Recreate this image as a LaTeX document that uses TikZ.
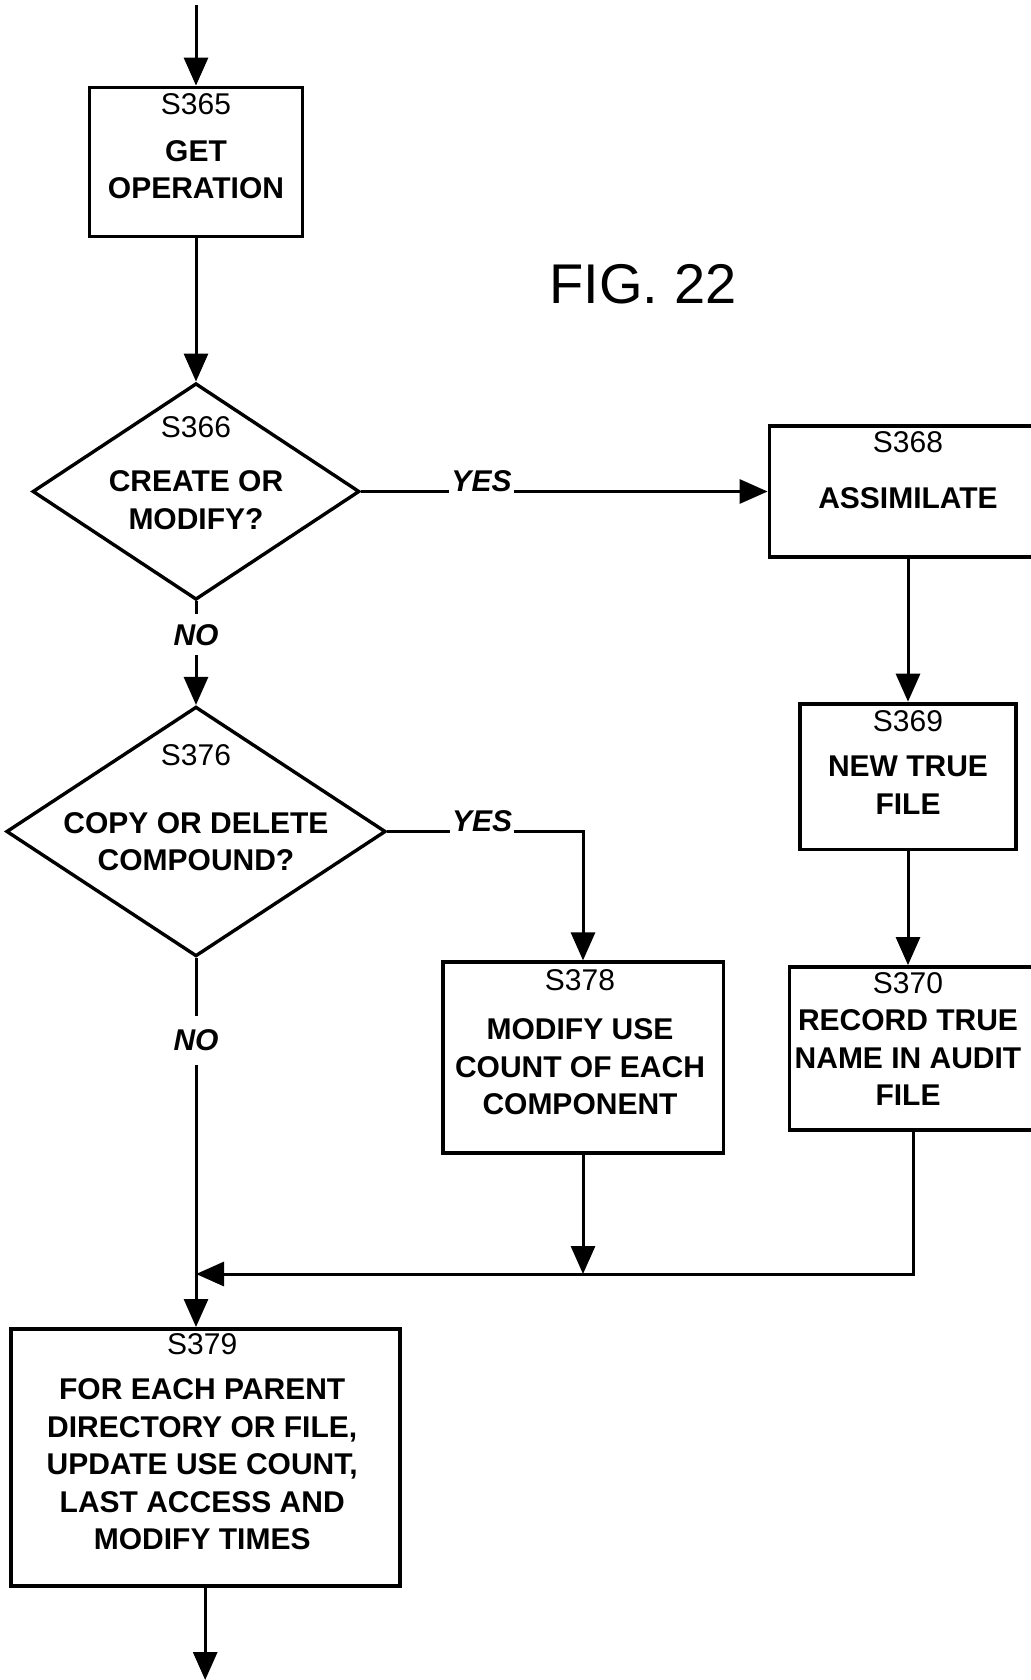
\documentclass[tikz,border=0pt]{standalone}
\usepackage{fontspec}
\setmainfont{Liberation Sans}
\usetikzlibrary{shapes.geometric, positioning, arrows.meta}

\begin{document}
\begin{tikzpicture}[x=0.5pt, y=-0.5pt,
  stepbox/.style = {draw, line width=1.9pt, inner sep=0pt},
  decision/.style = {draw, diamond, line width=1.7pt, inner sep=0pt},
  txt/.style = {align=center, inner sep=0pt, font=\fontsize{15}{18.75}\selectfont\bfseries},
  flow/.style = {line width=1.5pt, -{Triangle[length=14pt, width=12pt]}},
  answer/.style = {fill=white, inner xsep=1pt, inner ysep=5pt, font=\fontsize{15}{18}\selectfont\bfseries\itshape}]
\useasboundingbox (0,0) rectangle (1031,1680);

\node[stepbox, minimum width=106.5pt, minimum height=74.5pt] (s365) at (196,162) {};
\node[decision, minimum width=163.5pt, minimum height=108.25pt] (s366) [below of=s365, node distance=164.75pt] {};
\node[decision, minimum width=189.7pt, minimum height=124.85pt] (s376) [below of=s366, node distance=170pt] {};
\node[stepbox, minimum width=138.5pt, minimum height=65.4pt] (s368) [right of=s366, node distance=356pt] {};
\node[stepbox, minimum width=108.2pt, minimum height=72.9pt] (s369) [below of=s368, node distance=142.5pt] {};
\node[stepbox, minimum width=123.5pt, minimum height=81.5pt] (s370) [below of=s369, node distance=136pt, xshift=2.5pt] {};
\node[stepbox, minimum width=140.4pt, minimum height=95.4pt] (s378) [right of=s376, node distance=193.5pt, yshift=-113.1pt] {};
\node[stepbox, minimum width=194.5pt, minimum height=128.6pt] (s379) [below of=s376, node distance=313pt, xshift=4.6pt] {};

\node[txt, below=3.7pt of s365.north] (t365) {{\mdseries S365}\\[4.75pt] GET\\ OPERATION};
\node[txt, below=17.2pt of s366.north] (t366) {{\mdseries S366}\\[8.5pt] CREATE OR\\ MODIFY?};
\node[txt, below=3.25pt of s368.north] (t368) {{\mdseries S368}\\[9.6pt] ASSIMILATE};
\node[txt, below=4.3pt of s369.north] (t369) {{\mdseries S369}\\[3.75pt] NEW TRUE\\ FILE};
\node[txt, below=3.5pt of s370.north, xshift=-2.5pt] (t370) {{\mdseries S370}\\ RECORD TRUE\\ NAME IN AUDIT\\ FILE};
\node[txt, below=19.6pt of s376.north] (t376) {{\mdseries S376}\\[15pt] COPY OR DELETE\\ COMPOUND?};
\node[txt, below=4.3pt of s378.north, xshift=-1.5pt] (t378) {{\mdseries S378}\\[5.9pt] MODIFY USE\\ COUNT OF EACH\\ COMPONENT};
\node[txt, below=3.2pt of s379.north, xshift=-1.5pt] (t379) {{\mdseries S379}\\[3.75pt] FOR EACH PARENT\\ DIRECTORY OR FILE,\\ UPDATE USE COUNT,\\ LAST ACCESS AND\\ MODIFY TIMES};

\node[font=\fontsize{28}{30}\selectfont] (fig) at (643,284) {FIG. 22};

\coordinate (in) at (196,5);
\coordinate (mrg) at (s376.south |- 0,1274);
\coordinate (out) at (s379.south |- 0,1680);

\draw[flow] (in) -- (s365);
\draw[flow] (s365) -- (s366);
\draw[flow] (s366) -- node[answer, pos=0.296, anchor=base, inner ysep=1pt] {YES} (s368);
\draw[flow] (s366) -- node[answer, pos=0.322] {NO} (s376);
\draw[flow] (s376) -| node[answer, pos=0.242, anchor=base, inner ysep=1pt] {YES} (s378);
\draw[flow] (s376) -- node[answer, pos=0.223, inner ysep=7pt] {NO} (s376 |- s379.north);
\draw[flow] (s368) -- (s369);
\draw[flow] (s369) -- (s369 |- s370.north);
\draw[flow] (s370) |- (mrg);
\draw[flow] (s378) -- (s378 |- mrg);
\draw[flow] (s379) -- (out);

\end{tikzpicture}
\end{document}
